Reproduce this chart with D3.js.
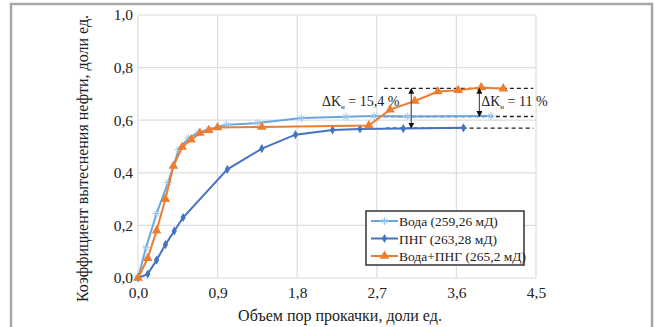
<!DOCTYPE html>
<html>
<head>
<meta charset="utf-8">
<script src="https://cdn.jsdelivr.net/npm/d3@7"></script>
<style>
  body { margin: 0; background: #fff; }
  svg text { font-family: "Liberation Serif", serif; fill: #222; }
</style>
</head>
<body>
<div id="chart"></div>
<script>
// data
const xTicks = [0, 0.9, 1.8, 2.7, 3.6, 4.5];
const yTicks = [0, 0.2, 0.4, 0.6, 0.8, 1.0];

const waterX = [0, 0.09, 0.21, 0.34, 0.46, 0.57, 0.68, 0.8, 1.0, 1.35, 1.85, 2.35, 2.67, 3.05, 3.99];
const waterY = [0, 0.115, 0.245, 0.363, 0.488, 0.532, 0.552, 0.566, 0.583, 0.589, 0.608, 0.613, 0.616, 0.614, 0.616];

const gasX = [0, 0.11, 0.21, 0.31, 0.41, 0.51, 1.01, 1.40, 1.78, 2.2, 2.51, 3.0, 3.68];
const gasY = [0, 0.015, 0.068, 0.127, 0.179, 0.23, 0.413, 0.492, 0.545, 0.563, 0.567, 0.568, 0.571];

const mixX = [0, 0.11, 0.21, 0.31, 0.40, 0.50, 0.60, 0.70, 0.80, 0.90, 1.40, 2.61, 2.85, 3.13, 3.39, 3.62, 3.88, 4.13];
const mixY = [0, 0.075, 0.18, 0.30, 0.426, 0.498, 0.526, 0.551, 0.562, 0.572, 0.574, 0.58, 0.64, 0.673, 0.709, 0.714, 0.724, 0.72];

const seriesNames = ['Вода (259,26 мД)', 'ПНГ (263,28 мД)', 'Вода+ПНГ (265,2 мД)'];

// reference levels and arrows
const levels = [0.721, 0.614, 0.570];
const levelX = [2.78, 4.47];
const arrows = [
  { x: 3.09, from: 0.570, to: 0.721, label: '15,4 %', lx: 2.08, ly: 0.673 },
  { x: 3.86, from: 0.614, to: 0.721, label: '11 %', lx: 3.88, ly: 0.673 }
];

const width = 654, height = 327;
const m = { left: 138, right: 118, top: 15, bottom: 49 };

const svg = d3.select('#chart').append('svg')
  .attr('width', width).attr('height', height);

// outer frame
svg.append('rect')
  .attr('x', 11).attr('y', 4).attr('width', 641).attr('height', 340)
  .attr('fill', 'none').attr('stroke', '#a6a6a6').attr('stroke-width', 2.5);

const x = d3.scaleLinear().domain([0, 4.5]).range([m.left, width - m.right]);
const y = d3.scaleLinear().domain([0, 1]).range([height - m.bottom, m.top]);

// grid
svg.append('g').selectAll('line').data(xTicks).enter().append('line')
  .attr('x1', d => x(d)).attr('x2', d => x(d))
  .attr('y1', y(0)).attr('y2', y(1))
  .attr('stroke', '#dddddd').attr('stroke-width', 1.2);
svg.append('g').selectAll('line').data(yTicks).enter().append('line')
  .attr('x1', x(0)).attr('x2', x(4.5))
  .attr('y1', d => y(d)).attr('y2', d => y(d))
  .attr('stroke', '#dddddd').attr('stroke-width', 1.2);

const fmt = d => d3.format('.1f')(d).replace('.', ',');

const xAxis = svg.append('g')
  .attr('transform', `translate(0, ${y(0)})`)
  .call(d3.axisBottom(x).tickValues(xTicks).tickFormat(fmt).tickSize(0).tickPadding(9));
xAxis.select('.domain').remove();
xAxis.attr('font-family', null).attr('font-size', null);
xAxis.selectAll('text').style('font-size', '15.5px');

const yAxis = svg.append('g')
  .attr('transform', `translate(${x(0)}, 0)`)
  .call(d3.axisLeft(y).tickValues(yTicks).tickFormat(fmt).tickSize(0).tickPadding(5));
yAxis.select('.domain').remove();
yAxis.attr('font-family', null).attr('font-size', null);
yAxis.selectAll('text').style('font-size', '15.5px');

svg.append('text')
  .attr('x', 340).attr('y', 321)
  .attr('text-anchor', 'middle').style('font-size', '16px')
  .text('Объем пор прокачки, доли ед.');

svg.append('text')
  .attr('transform', `translate(88, ${(y(0) + y(1)) / 2 + 12}) rotate(-90)`)
  .attr('text-anchor', 'middle').style('font-size', '16px')
  .text('Коэффициент вытеснения нефти, доли ед.');

// dashed reference lines
svg.append('g').selectAll('line').data(levels).enter().append('line')
  .attr('x1', (d, i) => x(i === 2 ? 2.8 : levelX[0])).attr('x2', x(levelX[1]))
  .attr('y1', d => y(d)).attr('y2', d => y(d))
  .attr('stroke', '#222').attr('stroke-width', 1.3).attr('stroke-dasharray', '4,3');

const line = d3.line().x(d => x(d[0])).y(d => y(d[1]));
const zip = (a, b) => a.map((v, i) => [v, b[i]]);

const colors = ['#6aa6de', '#4472c4', '#ed7d31'];
const data = [zip(waterX, waterY), zip(gasX, gasY), zip(mixX, mixY)];

function marker(g, kind, cx, cy, c, s) {
  if (kind === 0) {
    const r = s;
    g.append('path')
      .attr('d', `M${cx - r},${cy}H${cx + r}M${cx},${cy - r}V${cy + r}M${cx - r * 0.7},${cy - r * 0.7}L${cx + r * 0.7},${cy + r * 0.7}M${cx - r * 0.7},${cy + r * 0.7}L${cx + r * 0.7},${cy - r * 0.7}`)
      .attr('stroke', '#9cc8ee').attr('stroke-width', 1);
  } else if (kind === 1) {
    g.append('path')
      .attr('d', d3.symbol(d3.symbolDiamond, 24)())
      .attr('transform', `translate(${cx},${cy})`).attr('fill', c);
  } else {
    g.append('path')
      .attr('d', d3.symbol(d3.symbolTriangle, 40)())
      .attr('transform', `translate(${cx},${cy})`).attr('fill', c);
  }
}

[1, 0, 2].forEach(i => {
  svg.append('path').datum(data[i])
    .attr('d', line).attr('fill', 'none')
    .attr('stroke', colors[i]).attr('stroke-width', 2);
  const g = svg.append('g');
  data[i].forEach(p => marker(g, i, x(p[0]), y(p[1]), colors[i], 4));
});

// arrows
const defs = svg.append('defs');
defs.append('marker').attr('id', 'ah').attr('viewBox', '0 0 10 10')
  .attr('refX', 9).attr('refY', 5).attr('markerWidth', 5).attr('markerHeight', 5)
  .attr('orient', 'auto-start-reverse')
  .append('path').attr('d', 'M0,0L10,5L0,10Z').attr('fill', '#111');

arrows.forEach(a => {
  svg.append('line')
    .attr('x1', x(a.x)).attr('x2', x(a.x))
    .attr('y1', y(a.from)).attr('y2', y(a.to))
    .attr('stroke', '#555').attr('stroke-width', 1.2)
    .attr('marker-start', 'url(#ah)').attr('marker-end', 'url(#ah)');
  const t = svg.append('text').attr('x', x(a.lx)).attr('y', y(a.ly) + 5)
    .style('font-size', '14px');
  t.append('tspan').text('ΔK');
  t.append('tspan').attr('dy', 3).style('font-size', '7px').text('н');
  t.append('tspan').attr('dy', -3).text(' = ' + a.label);
});

// legend
const lg = svg.append('g').attr('transform', 'translate(366, 211)');
lg.append('rect').attr('width', 158).attr('height', 54)
  .attr('fill', '#fff').attr('stroke', '#333').attr('stroke-width', 1.5);
seriesNames.forEach((n, i) => {
  const yy = 10 + i * 17.5;
  lg.append('line').attr('x1', 5).attr('x2', 32).attr('y1', yy).attr('y2', yy)
    .attr('stroke', colors[i]).attr('stroke-width', 2);
  marker(lg, i, 18.5, yy, colors[i], 4);
  lg.append('text').attr('x', 33).attr('y', yy + 5)
    .style('font-size', '13.5px').text(n);
});
</script>
</body>
</html>
